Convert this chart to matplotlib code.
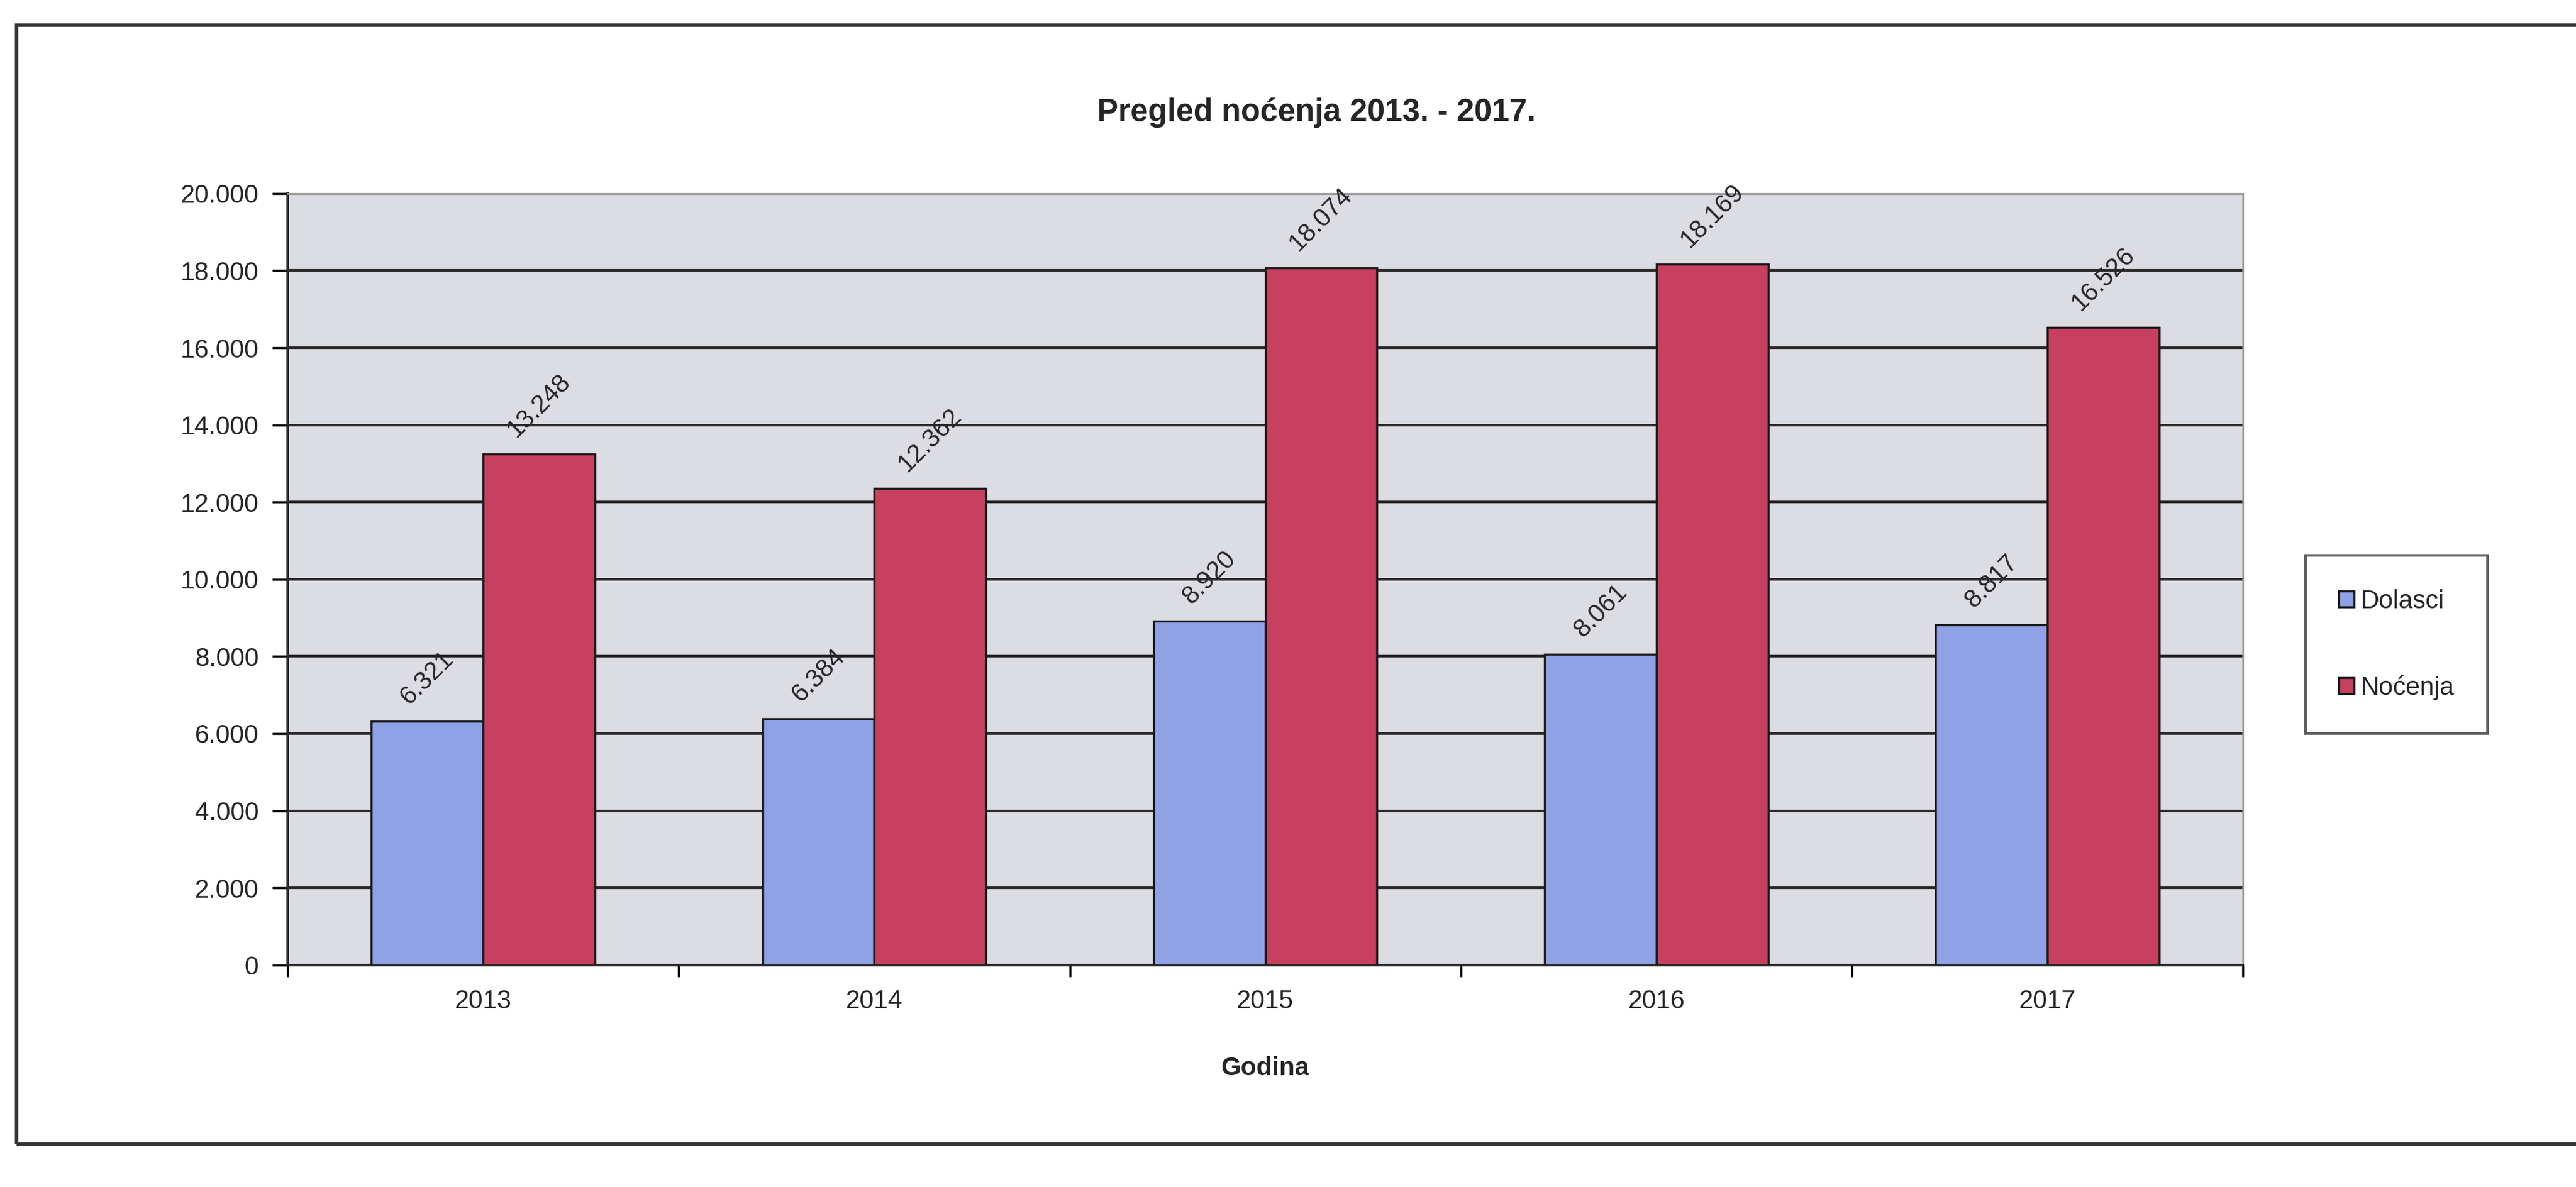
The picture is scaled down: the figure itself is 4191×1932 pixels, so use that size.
import numpy as np
import matplotlib
matplotlib.use("Agg")
import matplotlib.pyplot as plt
from matplotlib.ticker import FuncFormatter, MultipleLocator
from matplotlib.patches import Rectangle

plt.rcParams['font.family'] = ['Liberation Sans', 'DejaVu Sans']

# Data
godine = ["2013", "2014", "2015", "2016", "2017"]
dolasci = [6321, 6384, 8920, 8061, 8817]
nocenja = [13248, 12362, 18074, 18169, 16526]

title = "Pregled noćenja 2013. - 2017."
xlabel = "Godina"
series_names = ["Dolasci", "Noćenja"]

col_blue = "#8fa2e6"
col_red = "#c7405f"
bg_gray = "#dcdce3"
txt = "#262626"


def fmt_thousands(v, pos=None):
    return f"{int(round(v)):,}".replace(",", ".")


fig = plt.figure(figsize=(41.91, 19.32), dpi=100)
ax = fig.add_axes([0.1117, 0.187, 0.759, 0.650])

x = np.arange(len(godine))
w = 1 / 3.5  # Excel gap width 150%

b1 = ax.bar(x - w / 2, dolasci, width=w, color=col_blue, edgecolor="#1a1a1a",
            linewidth=2.5, label=series_names[0], zorder=3)
b2 = ax.bar(x + w / 2, nocenja, width=w, color=col_red, edgecolor="#1a1a1a",
            linewidth=2.5, label=series_names[1], zorder=3)

# data labels, rotated like in the original
for bars, vals in [(b1, dolasci), (b2, nocenja)]:
    for rect, v in zip(bars, vals):
        ax.annotate(fmt_thousands(v),
                    (rect.get_x() + rect.get_width() / 2, rect.get_height()),
                    xytext=(0, 14), textcoords="offset points",
                    ha="center", va="bottom", rotation=45,
                    fontsize=30, color=txt, zorder=4)

ax.set_facecolor(bg_gray)
ax.set_xlim(-0.5, len(godine) - 0.5)
ax.set_ylim(0, 20000)
ax.yaxis.set_major_locator(MultipleLocator(2000))
ax.yaxis.set_major_formatter(FuncFormatter(fmt_thousands))
ax.grid(axis="y", color="#2a2a2a", linewidth=3, zorder=1)
ax.set_axisbelow(True)

ax.set_xticks(x)
ax.set_xticklabels(godine)
ax.set_xticks(np.arange(len(godine) + 1) - 0.5, minor=True)
ax.tick_params(axis="x", which="major", length=0, pad=28, labelsize=30, labelcolor=txt)
ax.tick_params(axis="x", which="minor", length=14, width=2.5, direction="out")
ax.tick_params(axis="y", length=18, width=2.5, direction="out", pad=16,
               labelsize=30, labelcolor=txt)

for side in ["top", "right"]:
    ax.spines[side].set_color("#9a9a9a")
    ax.spines[side].set_linewidth(2)
for side in ["left", "bottom"]:
    ax.spines[side].set_color("#2a2a2a")
    ax.spines[side].set_linewidth(3)

ax.set_xlabel(xlabel, fontsize=30, fontweight="bold", color=txt, labelpad=50)
fig.text(0.511, 0.905, title, ha="center", va="center", fontsize=37,
         fontweight="bold", color=txt)

leg = fig.legend(handles=[b1, b2], labels=series_names, loc="center left",
                 bbox_to_anchor=(0.890, 0.457), fontsize=30, frameon=True,
                 fancybox=False, handlelength=0.6, handleheight=0.6,
                 handletextpad=0.25, labelspacing=2.4, borderpad=1.3)
leg.get_frame().set_edgecolor("#333333")
leg.get_frame().set_linewidth(3)
for t in leg.get_texts():
    t.set_color(txt)

# chart area border
fig.patches.append(Rectangle((0.0064, 0.036), 1.0, 0.943, transform=fig.transFigure,
                             fill=False, edgecolor="#333333", linewidth=4))

fig.savefig("out.png", dpi=100, facecolor="white")
